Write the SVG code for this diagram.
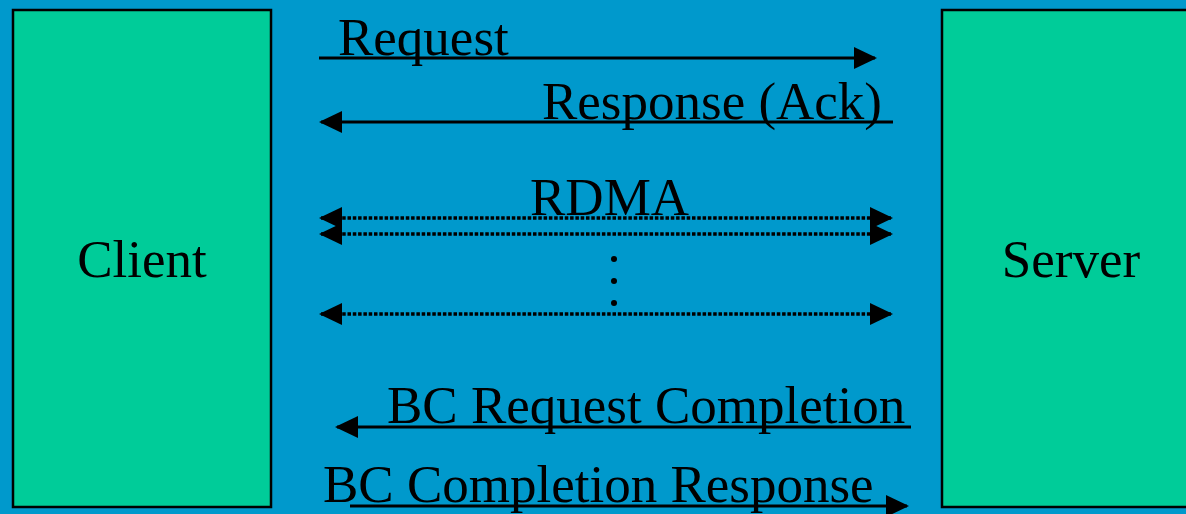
<svg xmlns="http://www.w3.org/2000/svg" width="1186" height="514" viewBox="0 0 1186 514">
<style>
text{font-family:"Liberation Serif","Times New Roman",serif;font-size:53px;fill:#000}
.box{fill:#00CC99;stroke:#000;stroke-width:2.5}
.solid{stroke:#000;stroke-width:2.8;fill:none}
.dot{stroke:#000;stroke-width:3.5;stroke-dasharray:3.5 1.8;fill:none}
</style>
<defs>
<marker id="ah" markerUnits="userSpaceOnUse" markerWidth="23" markerHeight="22" refX="21" refY="11" orient="auto-start-reverse" viewBox="0 0 23 22">
<path d="M0,0 L23,11 L0,22 z" fill="#000"/>
</marker>
</defs>
<rect width="1186" height="514" fill="#0099CC"/>
<g id="client">
<rect class="box" x="13" y="10" width="258" height="497"/>
<text x="142" y="277" text-anchor="middle">Client</text>
</g>
<g id="server">
<rect class="box" x="942" y="10" width="260" height="497"/>
<text x="1071" y="277" text-anchor="middle">Server</text>
</g>
<g id="connectors">
<line class="solid" x1="319" y1="58" x2="875" y2="58" marker-end="url(#ah)"/>
<line class="solid" x1="893" y1="122" x2="321" y2="122" marker-end="url(#ah)"/>
<line class="dot" x1="321" y1="218" x2="891" y2="218" marker-start="url(#ah)" marker-end="url(#ah)"/>
<line class="dot" x1="321" y1="234" x2="891" y2="234" marker-start="url(#ah)" marker-end="url(#ah)"/>
<line class="dot" x1="321" y1="314" x2="891" y2="314" marker-start="url(#ah)" marker-end="url(#ah)"/>
<line class="solid" x1="911" y1="427" x2="337" y2="427" marker-end="url(#ah)"/>
<line class="solid" x1="350" y1="506" x2="907" y2="506" marker-end="url(#ah)"/>
<circle cx="614" cy="259" r="3" fill="#000"/>
<circle cx="614" cy="281" r="3" fill="#000"/>
<circle cx="614" cy="303" r="3" fill="#000"/>
</g>
<g id="labels">
<text x="338" y="55">Request</text>
<text x="542" y="119">Response (Ack)</text>
<text x="530" y="215">RDMA</text>
<text x="387" y="423">BC Request Completion</text>
<text x="323" y="502">BC Completion Response</text>
</g>
</svg>
